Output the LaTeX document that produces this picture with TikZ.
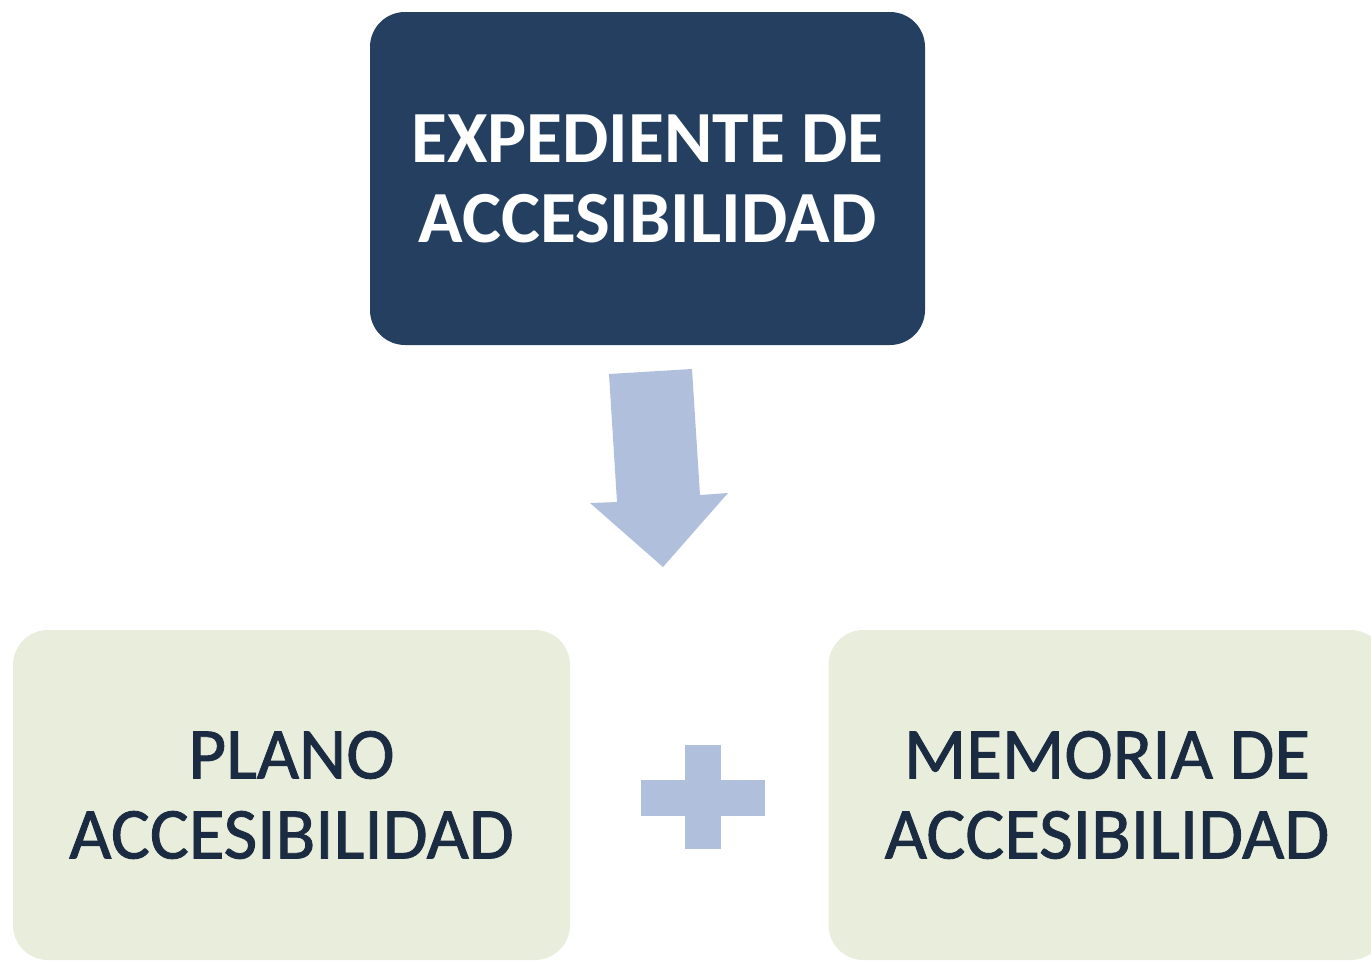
\documentclass[tikz,border=0pt]{standalone}
\usepackage{fontspec}
\setmainfont{Carlito}
\newfontfamily\heavyfont[FakeBold=1.2]{Carlito}
\usepackage{tikz}

\definecolor{navybox}{HTML}{243F60}
\definecolor{greenbox}{HTML}{E9EDDC}
\definecolor{paleblue}{HTML}{B0C0DC}
\definecolor{darktext}{HTML}{1B2C42}

\tikzset{
  topbox/.style={fill=navybox, rounded corners=35, minimum width=555, minimum height=333, inner sep=0, align=center, text=white, font=\fontsize{73.5}{80}\selectfont\bfseries},
  subbox/.style={fill=greenbox, rounded corners=35, minimum width=557, minimum height=330, inner sep=0, align=center, text=darktext, font=\heavyfont\fontsize{73}{80}\selectfont}
}

\begin{document}
\begin{tikzpicture}[x=1pt, y=1pt, yscale=-1, xscale=1]
\clip (0, 0) rectangle (1371, 962);
\node[topbox] (exp) at (647.5, 178.5) {EXPEDIENTE DE\\ACCESIBILIDAD};
\node[subbox] (plano) at (291.5, 795) {PLANO\\ACCESIBILIDAD};
\node[subbox] (memoria) at (1107, 795) {MEMORIA DE\\ACCESIBILIDAD};
\fill[paleblue] (609, 374) -- (692, 369) -- (700, 495) -- (728, 493) -- (663, 567) -- (590, 503) -- (617, 502) -- cycle;
\fill[paleblue] (641, 780) rectangle (765, 816);
\fill[paleblue] (685, 745) rectangle (721, 849);
\end{tikzpicture}
\end{document}
